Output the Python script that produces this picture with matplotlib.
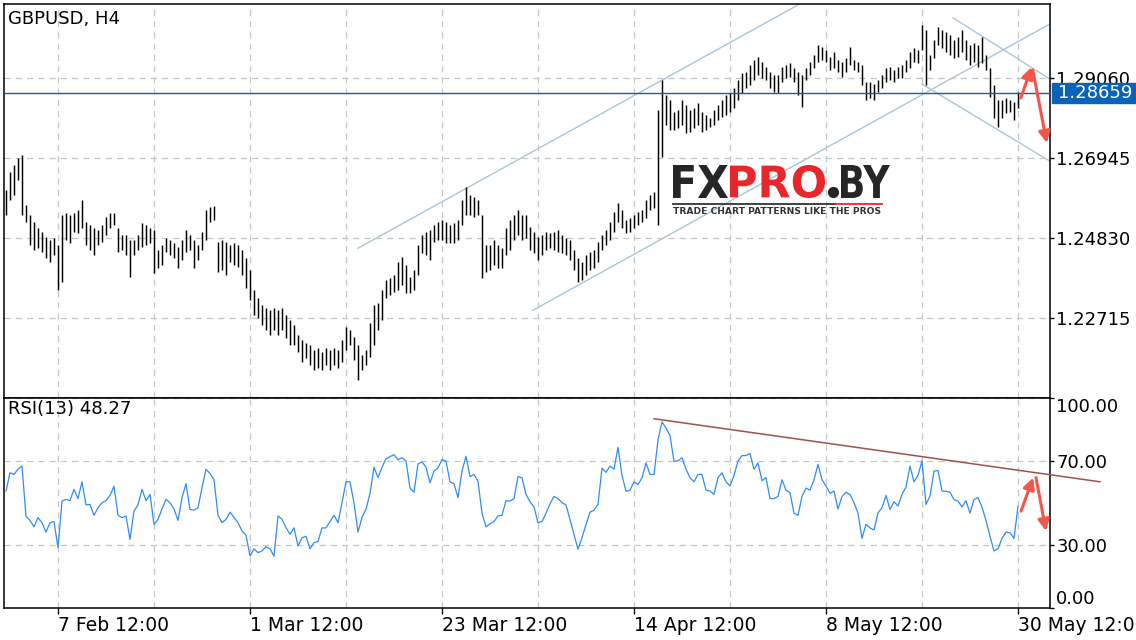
import numpy as np
import matplotlib.pyplot as plt
import matplotlib.transforms as mtransforms
from matplotlib.patches import Rectangle, PathPatch, Circle
from matplotlib.textpath import TextPath
from matplotlib.font_manager import FontProperties

plt.rcParams['font.family'] = ['DejaVu Sans']

# Datos del grafico (barras H4 agrupadas de a 8 horas)
symbol = 'GBPUSD, H4'
rsi_title = 'RSI(13) 48.27'

high = [
    1.2610, 1.2657, 1.2676, 1.2694, 1.2702, 1.2570, 1.2544, 1.2525, 1.2509, 1.2499,
    1.2485, 1.2477, 1.2483, 1.2464, 1.2544, 1.2549, 1.2544, 1.2549, 1.2557, 1.2583,
    1.2525, 1.2517, 1.2509, 1.2504, 1.2517, 1.2538, 1.2549, 1.2549, 1.2509, 1.2491,
    1.2491, 1.2477, 1.2477, 1.2491, 1.2522, 1.2517, 1.2509, 1.2504, 1.2451, 1.2464,
    1.2483, 1.2477, 1.2470, 1.2459, 1.2477, 1.2504, 1.2491, 1.2477, 1.2464, 1.2499,
    1.2557, 1.2565, 1.2567, 1.2472, 1.2477, 1.2472, 1.2464, 1.2470, 1.2464, 1.2451,
    1.2430, 1.2398, 1.2345, 1.2324, 1.2306, 1.2298, 1.2292, 1.2298, 1.2292, 1.2298,
    1.2279, 1.2266, 1.2253, 1.2226, 1.2213, 1.2205, 1.2200, 1.2187, 1.2192, 1.2181,
    1.2192, 1.2187, 1.2192, 1.2187, 1.2213, 1.2247, 1.2240, 1.2221, 1.2200, 1.2173,
    1.2187, 1.2258, 1.2306, 1.2311, 1.2345, 1.2372, 1.2377, 1.2385, 1.2419, 1.2433,
    1.2411, 1.2380, 1.2398, 1.2464, 1.2491, 1.2499, 1.2504, 1.2517, 1.2525, 1.2530,
    1.2525, 1.2517, 1.2522, 1.2530, 1.2583, 1.2618, 1.2596, 1.2591, 1.2583, 1.2544,
    1.2464, 1.2464, 1.2477, 1.2464, 1.2456, 1.2509, 1.2530, 1.2544, 1.2557, 1.2544,
    1.2544, 1.2512, 1.2499, 1.2485, 1.2491, 1.2499, 1.2496, 1.2499, 1.2504, 1.2491,
    1.2483, 1.2477, 1.2451, 1.2430, 1.2419, 1.2438, 1.2446, 1.2451, 1.2472, 1.2491,
    1.2504, 1.2525, 1.2552, 1.2575, 1.2557, 1.2530, 1.2536, 1.2544, 1.2552, 1.2557,
    1.2583, 1.2596, 1.2604, 1.2821, 1.2901, 1.2861, 1.2848, 1.2816, 1.2821, 1.2848,
    1.2834, 1.2821, 1.2826, 1.2840, 1.2816, 1.2808, 1.2800, 1.2821, 1.2834, 1.2848,
    1.2861, 1.2866, 1.2879, 1.2901, 1.2919, 1.2922, 1.2940, 1.2953, 1.2961, 1.2948,
    1.2935, 1.2922, 1.2914, 1.2914, 1.2935, 1.2940, 1.2945, 1.2932, 1.2922, 1.2914,
    1.2932, 1.2948, 1.2967, 1.2993, 1.2988, 1.2980, 1.2961, 1.2975, 1.2953, 1.2948,
    1.2959, 1.2988, 1.2953, 1.2948, 1.2940, 1.2895, 1.2895, 1.2890, 1.2901, 1.2914,
    1.2932, 1.2935, 1.2927, 1.2935, 1.2940, 1.2953, 1.2975, 1.2985, 1.2980, 1.3046,
    1.3033, 1.2967, 1.3006, 1.3041, 1.3033, 1.3027, 1.3020, 1.3006, 1.3014, 1.3033,
    1.3006, 1.2993, 1.2998, 1.2993, 1.3014, 1.2967, 1.2932, 1.2887, 1.2848, 1.2848,
    1.2853, 1.2848, 1.2842, 1.2869,
]

low = [
    1.2544, 1.2583, 1.2596, 1.2636, 1.2544, 1.2525, 1.2464, 1.2451, 1.2456, 1.2446,
    1.2430, 1.2419, 1.2438, 1.2345, 1.2366, 1.2477, 1.2470, 1.2499, 1.2496, 1.2509,
    1.2464, 1.2451, 1.2438, 1.2464, 1.2472, 1.2491, 1.2509, 1.2517, 1.2446, 1.2451,
    1.2438, 1.2380, 1.2438, 1.2451, 1.2459, 1.2464, 1.2470, 1.2390, 1.2403, 1.2411,
    1.2446, 1.2438, 1.2430, 1.2403, 1.2425, 1.2446, 1.2451, 1.2403, 1.2425, 1.2451,
    1.2477, 1.2525, 1.2530, 1.2393, 1.2398, 1.2385, 1.2419, 1.2411, 1.2406, 1.2385,
    1.2351, 1.2319, 1.2279, 1.2271, 1.2253, 1.2240, 1.2226, 1.2240, 1.2226, 1.2240,
    1.2218, 1.2200, 1.2200, 1.2181, 1.2155, 1.2165, 1.2147, 1.2134, 1.2139, 1.2134,
    1.2147, 1.2134, 1.2147, 1.2139, 1.2155, 1.2187, 1.2200, 1.2160, 1.2107, 1.2134,
    1.2147, 1.2168, 1.2200, 1.2240, 1.2266, 1.2324, 1.2332, 1.2340, 1.2345, 1.2359,
    1.2337, 1.2337, 1.2345, 1.2385, 1.2443, 1.2438, 1.2425, 1.2472, 1.2477, 1.2477,
    1.2470, 1.2470, 1.2470, 1.2477, 1.2517, 1.2544, 1.2544, 1.2538, 1.2544, 1.2377,
    1.2393, 1.2398, 1.2411, 1.2403, 1.2403, 1.2438, 1.2451, 1.2477, 1.2491, 1.2477,
    1.2483, 1.2451, 1.2443, 1.2425, 1.2438, 1.2451, 1.2456, 1.2451, 1.2446, 1.2443,
    1.2438, 1.2425, 1.2398, 1.2366, 1.2372, 1.2385, 1.2398, 1.2403, 1.2419, 1.2451,
    1.2464, 1.2477, 1.2499, 1.2525, 1.2509, 1.2496, 1.2499, 1.2509, 1.2517, 1.2525,
    1.2536, 1.2557, 1.2562, 1.2517, 1.2697, 1.2782, 1.2768, 1.2768, 1.2774, 1.2782,
    1.2760, 1.2763, 1.2774, 1.2782, 1.2763, 1.2768, 1.2776, 1.2782, 1.2795, 1.2803,
    1.2808, 1.2816, 1.2826, 1.2848, 1.2866, 1.2879, 1.2887, 1.2901, 1.2914, 1.2906,
    1.2901, 1.2879, 1.2869, 1.2866, 1.2895, 1.2906, 1.2908, 1.2895, 1.2861, 1.2829,
    1.2901, 1.2914, 1.2932, 1.2948, 1.2953, 1.2948, 1.2927, 1.2932, 1.2922, 1.2908,
    1.2922, 1.2940, 1.2927, 1.2922, 1.2887, 1.2848, 1.2853, 1.2848, 1.2869, 1.2879,
    1.2895, 1.2901, 1.2895, 1.2906, 1.2906, 1.2922, 1.2932, 1.2948, 1.2945, 1.2980,
    1.2887, 1.2927, 1.2959, 1.2993, 1.2985, 1.2975, 1.2967, 1.2959, 1.2961, 1.2975,
    1.2953, 1.2940, 1.2948, 1.2935, 1.2945, 1.2927, 1.2856, 1.2800, 1.2776, 1.2800,
    1.2813, 1.2816, 1.2795, 1.2826,
]

rsi = [
    55.6, 64.3, 63.5, 66.0, 67.5, 43.5, 41.6, 38.5, 42.9, 40.5,
    36.0, 40.5, 41.0, 28.6, 50.8, 51.6, 51.1, 56.4, 52.0, 60.0,
    49.0, 49.2, 44.0, 47.6, 50.0, 51.0, 53.5, 57.9, 44.0, 42.9,
    43.7, 32.5, 46.0, 49.0, 56.4, 51.0, 54.0, 39.7, 42.0, 47.0,
    51.6, 50.0, 47.0, 41.6, 52.4, 59.1, 46.8, 46.5, 47.6, 57.2,
    65.9, 64.0, 61.0, 44.0, 40.5, 42.0, 45.5, 43.0, 40.5, 36.5,
    34.5, 24.6, 28.0, 26.2, 27.0, 29.0, 28.0, 24.5, 43.7, 42.1,
    38.1, 35.0, 38.0, 29.4, 33.3, 34.0, 28.0, 31.0, 31.5, 38.0,
    38.0, 41.0, 44.0, 40.5, 50.0, 60.0, 60.0, 50.0, 36.0, 43.0,
    47.0, 54.5, 67.0, 62.0, 67.0, 71.0, 72.0, 73.0, 70.5, 71.5,
    70.0, 57.0, 55.0, 68.5, 69.5, 67.0, 59.5, 65.1, 66.7, 70.6,
    69.9, 60.0, 59.0, 52.4, 65.1, 72.2, 62.5, 63.5, 60.3, 45.0,
    38.5, 40.0, 41.0, 43.7, 44.0, 51.0, 50.8, 52.0, 62.5, 61.9,
    54.0, 50.5, 48.0, 40.5, 41.0, 45.0, 49.5, 53.0, 52.0, 50.0,
    49.0, 42.0, 35.0, 27.8, 33.3, 39.5, 45.5, 46.5, 49.2, 66.5,
    64.5, 67.5, 66.0, 76.5, 63.0, 55.5, 56.0, 60.0, 58.7, 61.9,
    69.0, 63.5, 63.5, 80.0, 88.6, 85.7, 82.0, 69.8, 70.0, 71.5,
    66.0, 62.0, 60.0, 63.5, 63.5, 56.0, 55.6, 54.0, 62.0, 64.3,
    60.0, 58.0, 63.0, 69.9, 72.5, 72.5, 73.5, 65.9, 69.0, 60.5,
    62.0, 52.0, 52.0, 53.0, 61.0, 56.0, 54.8, 45.0, 44.0, 53.0,
    57.0, 56.0, 61.0, 68.3, 61.0, 58.0, 54.5, 55.6, 47.0, 53.0,
    55.0, 54.0, 50.0, 45.0, 33.0, 39.7, 38.0, 37.0, 45.2, 47.6,
    53.5, 46.8, 50.5, 48.4, 54.0, 57.5, 67.5, 60.0, 63.0, 70.0,
    49.2, 53.2, 65.1, 65.4, 55.6, 55.5, 55.0, 51.5, 50.8, 48.0,
    51.0, 45.0, 51.6, 52.4, 48.0, 41.5, 34.0, 27.0, 28.0, 33.0,
    36.0, 35.7, 33.0, 48.27,
]

last_price = 1.28659
price_ticks = [1.22715, 1.24830, 1.26945, 1.29060]
rsi_ticks = [0, 30, 70, 100]
date_labels = ['7 Feb 12:00', '1 Mar 12:00', '23 Mar 12:00',
               '14 Apr 12:00', '8 May 12:00', '30 May 12:00']
date_pos = [13, 61, 109, 157, 205, 253]
grid_pos = list(range(13, 254, 24))

# lineas de canal (indice de barra, precio)
channels = [
    [(88, 1.2456), (199, 1.3105)],
    [(131.75, 1.2292), (261, 1.3049)],
    [(236.75, 1.3065), (261, 1.2903)],
    [(229, 1.2890), (261, 1.2686)],
]
rsi_trend = [(162, 90.1), (273.5, 60.0)]
price_arrows = [[(253.7, 1.2853), (256.4, 1.2935)], [(256.7, 1.2927), (260.2, 1.2734)]]
rsi_arrows = [[(253.75, 46.0), (256.8, 62.0)], [(257.5, 62.0), (260.0, 36.5)]]

W, H = 1136, 640
fig = plt.figure(figsize=(W / 100, H / 100), dpi=100)
ax = fig.add_axes([4 / W, 1 - 398 / H, 1046 / W, 394 / H])
ax2 = fig.add_axes([4 / W, 1 - 607.5 / H, 1046 / W, 209.5 / H])

grid_kw = dict(color='#c6c6c6', linestyle=(0, (5, 4)), linewidth=0.9)
red = '#f4564a'
x = np.arange(len(high))

# Panel de precio
for (x0, y0), (x1, y1) in channels:
    ax.plot([x0, x1], [y0, y1], color='#a9c6d8', lw=1.0, zorder=1)
ax.vlines(x, low, high, color='black', lw=1.05, zorder=2)
ax.axhline(last_price, color='#1b5d9e', lw=1.0, zorder=3)

ax.set_xlim(-0.5, 261)
ax.set_ylim(1.20600, 1.310164)
ax.set_xticks(grid_pos)
ax.set_yticks(price_ticks)
ax.set_yticklabels([f'{v:.5f}' for v in price_ticks])
ax.yaxis.tick_right()
ax.tick_params(axis='x', length=0, labelbottom=False)
ax.tick_params(axis='y', length=3, pad=1.5, labelsize=13, width=1)
ax.grid(True, **grid_kw)
for s in ax.spines.values():
    s.set_linewidth(1.1)

ax.text(0.004, 0.986, symbol, transform=ax.transAxes, va='top', ha='left', fontsize=13)

trans = mtransforms.blended_transform_factory(ax.transAxes, ax.transData)
ax.add_patch(Rectangle((1.0019, last_price - 0.00265), 0.085, 0.0053, transform=trans,
                       color='#0b63b9', clip_on=False, zorder=5))
ax.text(1.0019 + 0.0415, last_price, f'{last_price:.5f}', transform=trans, ha='center',
        va='center', color='white', fontsize=13, zorder=6, clip_on=False)

for (x0, y0), (x1, y1) in price_arrows:
    ax.annotate('', xy=(x1, y1), xytext=(x0, y0),
                arrowprops=dict(arrowstyle='-|>', color=red, lw=2.2, mutation_scale=17,
                                shrinkA=0, shrinkB=0), zorder=6)

# Panel RSI
ax2.plot(x, rsi, color='#2f8cf0', lw=0.9, zorder=2)
ax2.plot([p[0] for p in rsi_trend], [p[1] for p in rsi_trend], color='#a0514e', lw=1.1,
         clip_on=False, zorder=3)
for (x0, y0), (x1, y1) in rsi_arrows:
    ax2.annotate('', xy=(x1, y1), xytext=(x0, y0),
                 arrowprops=dict(arrowstyle='-|>', color=red, lw=2.2, mutation_scale=17,
                                 shrinkA=0, shrinkB=0), zorder=6)

ax2.set_xlim(-0.5, 261)
ax2.set_ylim(0, 100)
ax2.set_xticks(date_pos)
ax2.set_xticklabels(date_labels, ha='left')
ax2.set_xticks(grid_pos, minor=True)
ax2.set_yticks(rsi_ticks)
ax2.set_yticklabels([f'{v:.2f}' for v in rsi_ticks])
ax2.yaxis.tick_right()
ax2.tick_params(axis='x', which='major', length=4, pad=2, labelsize=13.5, width=1)
ax2.tick_params(axis='x', which='minor', length=0)
ax2.tick_params(axis='y', length=3, pad=1.5, labelsize=13, width=1)
ax2.grid(True, which='both', axis='x', **grid_kw)
ax2.grid(True, axis='y', **grid_kw)
for lbl in ax2.get_yticklabels():
    if lbl.get_text() == '100.00':
        lbl.set_va('top')
    elif lbl.get_text() == '0.00':
        lbl.set_va('bottom')
for s in ax2.spines.values():
    s.set_linewidth(1.1)

ax2.text(0.004, 0.99, rsi_title, transform=ax2.transAxes, va='top', ha='left', fontsize=13)

# Marca de agua (en pixeles sobre una capa transparente)
ov = fig.add_axes([0, 0, 1, 1])
ov.set_xlim(0, W)
ov.set_ylim(H, 0)
ov.set_facecolor('none')
ov.axis('off')

logo_font = FontProperties(family='DejaVu Sans', weight='bold')
logo = [('FX', 673, 728, 165, 198, '#262626'),
        ('PRO', 730, 825, 165, 198, '#e8262b'),
        ('BY', 841, 890, 165, 198, '#262626')]
for s, x0, x1, y0, y1, col in logo:
    tp = TextPath((0, 0), s, size=10, prop=logo_font)
    bb = tp.get_extents()
    tr = (mtransforms.Affine2D().translate(-bb.x0, -bb.y0)
          .scale((x1 - x0) / bb.width, -(y1 - y0) / bb.height).translate(x0, y1))
    ov.add_patch(PathPatch(tr.transform_path(tp), facecolor=col, lw=0))
ov.add_patch(Circle((833.5, 192.5), 5.6, facecolor='#262626', lw=0))

ov.plot([673, 835], [203.5, 203.5], color='#333333', lw=1.3)
ov.plot([835, 882], [203.5, 203.5], color='#e8262b', lw=1.3)
ov.text(673, 212, 'TRADE CHART PATTERNS LIKE THE PROS', ha='left', va='center',
        fontsize=6.6, fontweight='bold', color='#333333')

plt.savefig('out.png', dpi=100)
